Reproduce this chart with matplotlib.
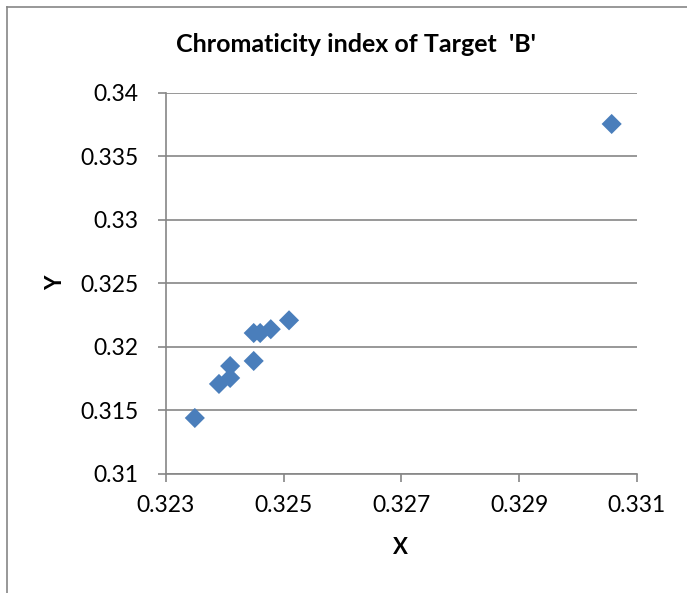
import matplotlib.pyplot as plt
from matplotlib.lines import Line2D

# chromaticity coordinates
x_vals = [0.32349, 0.32390, 0.32409, 0.32409, 0.32449, 0.32449, 0.32460, 0.32478, 0.32509, 0.33057]
y_vals = [0.31441, 0.31709, 0.31756, 0.31850, 0.31890, 0.32110, 0.32110, 0.32140, 0.32210, 0.33756]
x_ticks = [0.323, 0.325, 0.327, 0.329, 0.331]
y_ticks = [0.31, 0.315, 0.32, 0.325, 0.33, 0.335, 0.34]
y_labels = ['0.31', '0.315', '0.32', '0.325', '0.33', '0.335', '0.34']

plt.rcParams['font.family'] = ['Lato', 'DejaVu Sans']

fig = plt.figure(figsize=(6.87, 5.93), dpi=100)
ax = fig.add_axes([0.2416, 0.2007, 0.6856, 0.6425])

grey = '#868686'
ax.scatter(x_vals, y_vals, marker='D', s=105, color='#4A7EBB', edgecolors='none', zorder=3)

ax.set_xlim(0.323, 0.331)
ax.set_ylim(0.31, 0.34)
ax.set_xticks(x_ticks)
ax.set_xticklabels([str(t) for t in x_ticks])
ax.set_yticks(y_ticks)
ax.set_yticklabels(y_labels)
ax.grid(axis='y', color=grey, linewidth=1.2)
ax.set_axisbelow(True)

for s in ['top', 'right']:
    ax.spines[s].set_visible(False)
for s in ['left', 'bottom']:
    ax.spines[s].set_color(grey)
    ax.spines[s].set_linewidth(1.2)
ax.tick_params(colors=grey, labelcolor='black', labelsize=16.5, length=6, width=1.2, direction='out')
ax.tick_params(axis='x', pad=9)
ax.tick_params(axis='y', pad=14)

# axis labels and title placed where the original chart has them
fig.text(400 / 687, 1 - 548 / 593, 'X', fontsize=16, fontweight='bold', ha='center', va='center')
fig.text(56 / 687, 1 - 283 / 593, 'Y', fontsize=16, fontweight='bold', ha='center', va='center', rotation=90)
fig.text(356 / 687, 1 - 44 / 593, "Chromaticity index of Target  'B'", fontsize=18, fontweight='bold',
         ha='center', va='center')

# chart border
fig.add_artist(Line2D([0.0102, 0.0102], [0, 0.9882], color=grey, linewidth=1.2, transform=fig.transFigure))
fig.add_artist(Line2D([0.0102, 1], [0.9882, 0.9882], color=grey, linewidth=1.2, transform=fig.transFigure))

fig.savefig('out.png', dpi=100)
